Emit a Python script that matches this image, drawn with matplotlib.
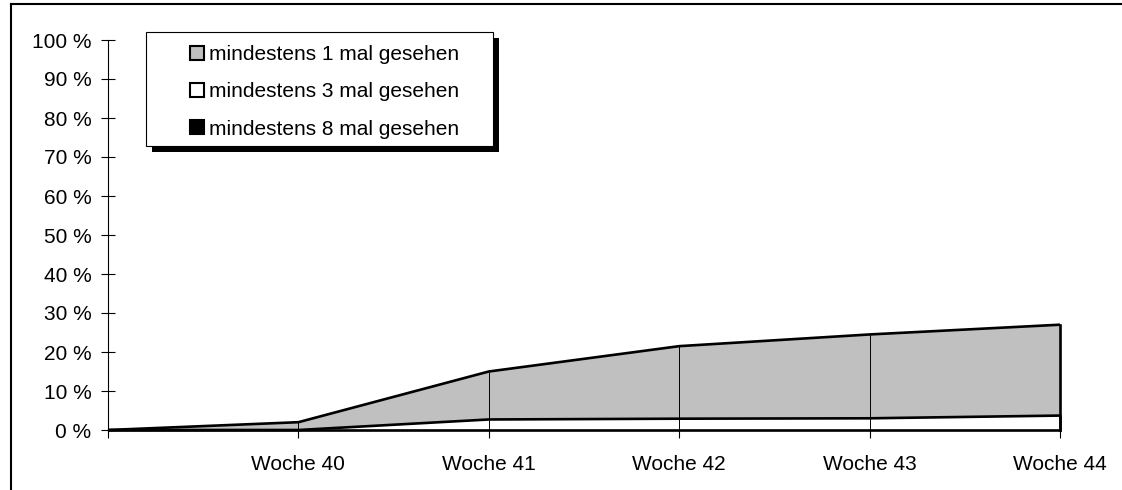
import numpy as np
from matplotlib import pyplot as plt
from matplotlib.patches import Patch, Rectangle
from matplotlib.lines import Line2D

plt.rcParams['font.family'] = ['Liberation Sans', 'DejaVu Sans']

# reach per week, in percent
weeks = ['', 'Woche 40', 'Woche 41', 'Woche 42', 'Woche 43', 'Woche 44']
seen_1 = [0, 2.0, 15.0, 21.5, 24.5, 27.0]
seen_3 = [0, 0.0, 2.7, 2.9, 3.0, 3.7]
seen_8 = [0, 0.0, 0.0, 0.0, 0.0, 0.0]
labels = ['mindestens 1 mal gesehen', 'mindestens 3 mal gesehen', 'mindestens 8 mal gesehen']
colors = ['#c0c0c0', 'white', 'black']

W, H = 1122, 490
fs = 15
fig = plt.figure(figsize=(W / 100, H / 100), dpi=100)
ax = fig.add_axes([108 / W, 60 / H, 952 / W, 390 / H])

x = np.arange(len(weeks))
for vals, col, z in zip([seen_1, seen_3, seen_8], colors, [1, 2, 3]):
    ax.fill_between(x, 0, vals, facecolor=col, edgecolor='none', zorder=z)

# drop lines at each week
ax.vlines(x[1:-1], 0, seen_1[1:-1], color='black', lw=0.7, zorder=4)

for vals in [seen_1, seen_3, seen_8]:
    ax.plot(x, vals, color='black', lw=1.9, zorder=5, clip_on=False, solid_capstyle='butt')
    ax.plot([x[-1], x[-1]], [0, vals[-1]], color='black', lw=1.9, zorder=5, clip_on=False)

ax.set_xlim(0, 5)
ax.set_ylim(0, 100)
ax.set_xticks(x)
ax.set_xticklabels(weeks)
ax.set_yticks(range(0, 101, 10))
ax.set_yticklabels([f'{v} %' for v in range(0, 101, 10)])
ax.tick_params(axis='y', direction='inout', length=10, width=0.8, pad=7, labelsize=fs)
ax.tick_params(axis='x', direction='out', length=6, width=0.8, pad=12, labelsize=fs)
for s in ['top', 'right']:
    ax.spines[s].set_visible(False)
for s in ['left', 'bottom']:
    ax.spines[s].set_linewidth(0.8)

# outer frame (cut at right and bottom)
fig.add_artist(Line2D([11 / W, 11 / W], [0, 1 - 4.5 / H], color='black', lw=1.5))
fig.add_artist(Line2D([11 / W, 1], [1 - 4.5 / H, 1 - 4.5 / H], color='black', lw=1.5))

# legend box with shadow
fig.add_artist(Rectangle((152 / W, 1 - 152 / H), 347 / W, 114 / H,
                         transform=fig.transFigure, facecolor='black', edgecolor='none'))
fig.add_artist(Rectangle((146 / W, 1 - 146 / H), 347 / W, 114 / H,
                         transform=fig.transFigure, facecolor='white', edgecolor='black', lw=0.8))
handles = [Patch(facecolor=c, edgecolor='black', lw=1.5) for c in colors]
leg = fig.legend(handles, labels, loc='upper left', bbox_to_anchor=(190 / W, 1 - 45 / H),
                 frameon=False, fontsize=fs, handlelength=0.65, handleheight=0.65,
                 handletextpad=0.25, labelspacing=0.88, borderpad=0, borderaxespad=0)
leg.set_zorder(10)

plt.savefig('out.png', dpi=100)
